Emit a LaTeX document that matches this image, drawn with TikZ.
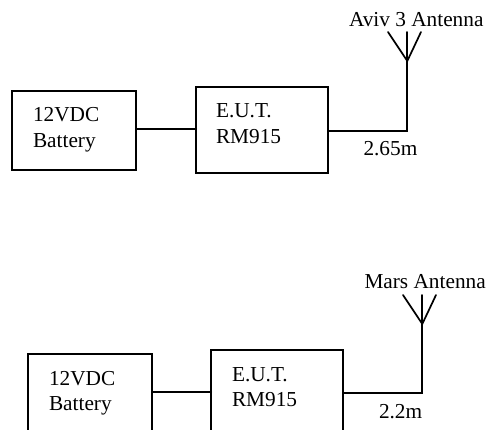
\documentclass[tikz,border=0pt]{standalone}
\usepackage{fontspec}
\setmainfont{Liberation Serif}
\tikzset{
  wire/.style={line width=1.7pt, line cap=round, line join=miter},
  boxnode/.style={draw, line width=1.7pt, inner sep=0pt, outer sep=0pt, anchor=north west},
  lbl/.style={inner sep=0pt, outer sep=0pt, anchor=base west, font=\fontsize{21.3}{24}\selectfont},
}
\begin{document}
\begin{tikzpicture}[x=1pt,y=-1pt]
\path[use as bounding box, clip] (0,0) rectangle (488,430);
% upper set-up
\node[boxnode, minimum width=124pt, minimum height=79pt] (bat1) at (12.3,91.3) {};
\node[boxnode, minimum width=132pt, minimum height=86pt] (eut1) at (196.3,87.3) {};
\coordinate (tapa1) at (0,129.3);
\coordinate (tapb1) at (0,131.3);
\coordinate (corner1) at (407.3,131.3);
\coordinate (feed1) at (407.3,61);
\coordinate (armL1) at (388,32);
\coordinate (armM1) at (407.3,32);
\coordinate (armR1) at (421,32);
\draw[wire] (bat1.east |- tapa1) -- (eut1.west |- tapa1);
\draw[wire] (eut1.east |- tapb1) -- (corner1) -- (feed1);
\draw[wire] (armL1) -- (feed1) -- (armR1);
\draw[wire] (armM1) -- (feed1);
\node[lbl] (t1a) at (33,122) {12VDC};
\node[lbl] (t1b) at (33,148) {Battery};
\node[lbl] (t1c) at (216,118) {E.U.T.};
\node[lbl] (t1d) at (216,144) {RM915};
\node[lbl] (t1e) at (363.5,155.5) {2.65m};
\node[lbl] (t1f) at (349,26.7) {Aviv 3 Antenna};
% lower set-up
\node[boxnode, minimum width=124pt, minimum height=100pt] (bat2) at (28.3,354.3) {};
\node[boxnode, minimum width=132pt, minimum height=100pt] (eut2) at (211.3,350.3) {};
\coordinate (tapa2) at (0,392.3);
\coordinate (tapb2) at (0,393.3);
\coordinate (corner2) at (422.3,393.3);
\coordinate (feed2) at (422.3,324);
\coordinate (armL2) at (403,295);
\coordinate (armM2) at (422.3,295);
\coordinate (armR2) at (436,295);
\draw[wire] (bat2.east |- tapa2) -- (eut2.west |- tapa2);
\draw[wire] (eut2.east |- tapb2) -- (corner2) -- (feed2);
\draw[wire] (armL2) -- (feed2) -- (armR2);
\draw[wire] (armM2) -- (feed2);
\node[lbl] (t2a) at (49,385.5) {12VDC};
\node[lbl] (t2b) at (49,411) {Battery};
\node[lbl] (t2c) at (232,381.7) {E.U.T.};
\node[lbl] (t2d) at (232,406.7) {RM915};
\node[lbl] (t2e) at (379,419) {2.2m};
\node[lbl] (t2f) at (364.5,288.8) {Mars Antenna};
\end{tikzpicture}
\end{document}
